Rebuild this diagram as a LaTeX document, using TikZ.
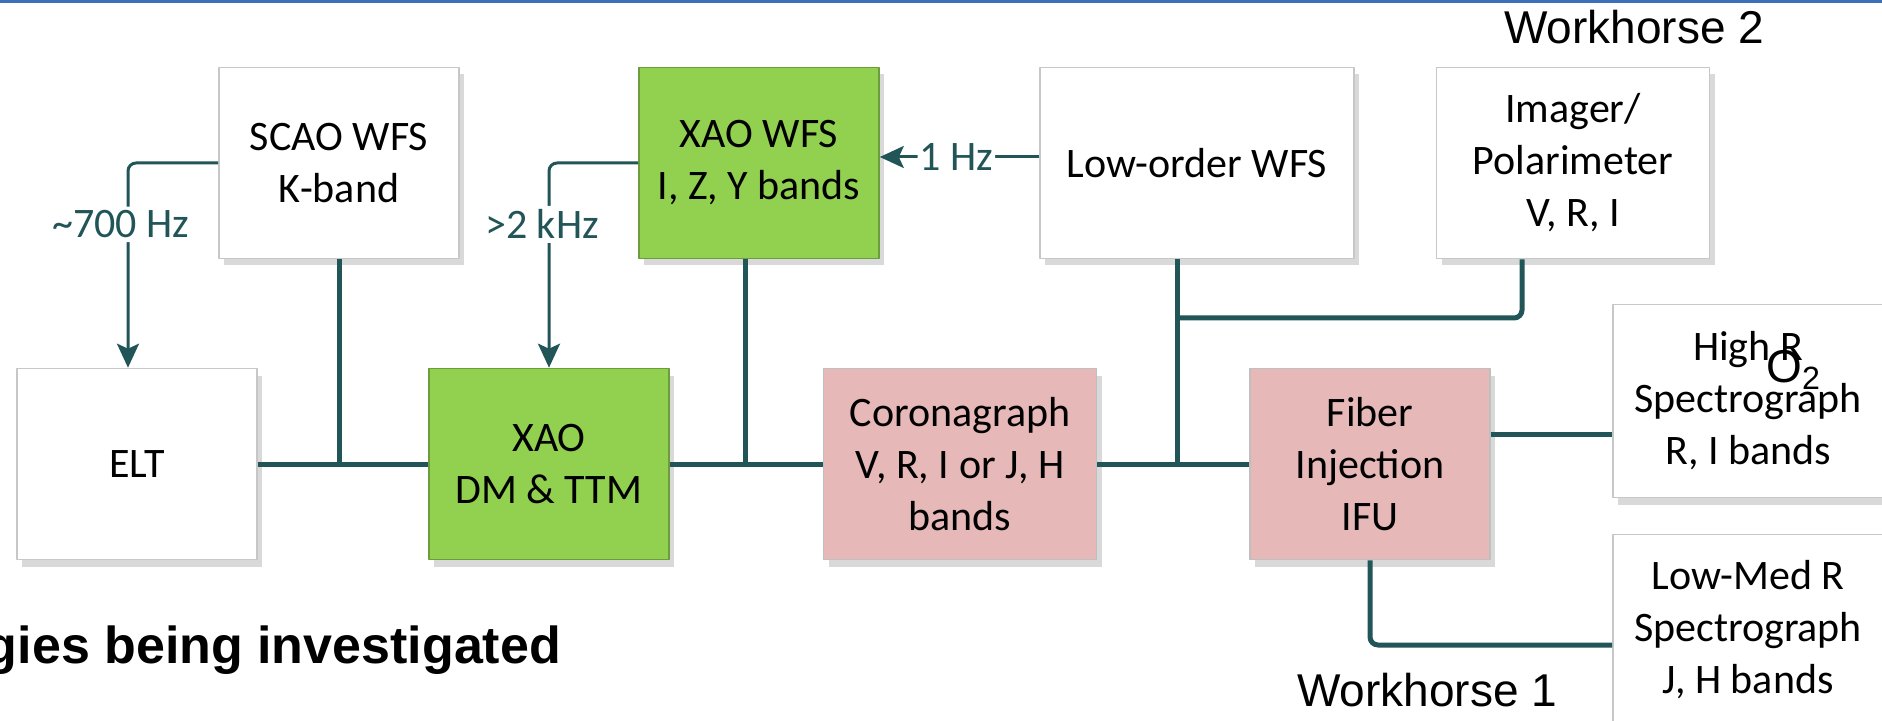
\documentclass[tikz,border=0pt]{standalone}
\usepackage{fontspec}
\setmainfont{Carlito}
\newfontfamily\arialfont{Liberation Sans}
\usetikzlibrary{arrows.meta,shadows,calc}
\definecolor{linkteal}{HTML}{215557}
\definecolor{xaogreen}{HTML}{92D050}
\definecolor{instpink}{HTML}{E6B8B7}
\definecolor{rulebl}{HTML}{3A70B8}

\begin{document}
\begin{tikzpicture}[x=0.5pt, y=-0.5pt, line join=round,
  blk/.style={draw=black!22, line width=0.8pt, fill=white, minimum width=120pt, minimum height=95.5pt, align=center, inner sep=0pt, font=\fontsize{21}{26}\selectfont, drop shadow={opacity=0.3, shadow xshift=2.5pt, shadow yshift=-3.5pt}},
  greenblk/.style={blk, fill=xaogreen, draw=xaogreen!75!black},
  pinkblk/.style={blk, fill=instpink, draw=black!25},
  bus/.style={draw=linkteal, line width=2.5pt},
  fb/.style={draw=linkteal, line width=1.5pt, rounded corners=4pt, -{Stealth[length=12pt,width=11pt,inset=2.5pt]}},
  rate/.style={fill=white, text=linkteal, font=\fontsize{21}{26}\selectfont, inner xsep=1pt, inner ysep=2pt},
  arial/.style={font=\arialfont\fontsize{23}{23}\selectfont}]
\useasboundingbox (0,0) rectangle (1882,721);
\clip (0,0) rectangle (1882,721);
\fill[rulebl] (0,0) rectangle (1882,3.5);

\node[blk] (elt) at (137,464) {ELT};
\node[blk] (scao) at (339,163) {SCAO WFS\\K-band};
\node[greenblk] (xwfs) at (759,163) {XAO WFS\\I, Z, Y bands};
\node[greenblk] (xdm) at (549,464) {XAO\\DM \& TTM};
\node[pinkblk, minimum width=136.5pt] (coro) at (960,464) {Coronagraph\\V, R, I or J, H\\bands};
\node[pinkblk] (fiber) at (1370,464) {Fiber\\Injection\\IFU};
\node[blk, minimum width=157pt] (lowo) at (1197,163) {Low-order WFS};
\node[blk, minimum width=136.5pt] (imgr) at (1573,163) {Imager/\\Polarimeter\\V, R, I};
\node[blk, minimum width=135pt, minimum height=96.5pt] (hir) at (1748,401) {High R\\Spectrograph\\R, I bands};
\node[blk, minimum width=135pt] (lowr) at (1748,630) {Low-Med R\\Spectrograph\\J, H bands};

\coordinate (wtap) at ([xshift=-7pt]xwfs.south);
\coordinate (ltap) at ([xshift=-10pt]lowo.south);
\coordinate (itap) at ([xshift=-25.5pt]imgr.south);
\coordinate (split) at (ltap |- 0,318);

\draw[bus] (elt) -- (xdm) (xdm) -- (coro) (coro) -- (fiber);
\draw[bus] (scao) -- (scao |- elt);
\draw[bus] (wtap) -- (wtap |- xdm);
\draw[bus] (ltap) -- (ltap |- coro);
\draw[bus, rounded corners=4pt] (split) -| (itap);
\draw[bus] ([yshift=15pt]fiber.east) -- ([yshift=15pt]fiber.east -| hir.west);
\draw[bus, rounded corners=4pt] (fiber.south) |- ([yshift=-7.5pt]lowr.west);

\draw[fb] (scao.west) -| node[rate, pos=0.65, xshift=-3.5pt] {\textasciitilde700 Hz} ([xshift=-4.5pt]elt.north);
\draw[fb] (xwfs.west) -| node[rate, pos=0.65, xshift=-3.5pt] {>2 kHz} (xdm.north);
\draw[fb] ([yshift=3pt]lowo.west) -- node[rate, pos=0.52] {1 Hz} ([yshift=3pt]xwfs.east);

\node[arial] (wh2) at (1634,27) {Workhorse 2};
\node[arial] (wh1) at (1427,690) {Workhorse 1};
\node[arial, anchor=base west, inner sep=0pt] (otwo) at (1766,382) {O\textsubscript{2}};
\node[anchor=base west, inner sep=0pt, font=\arialfont\bfseries\fontsize{26}{26}\selectfont] (invest) at (-14.5,663) {gies being investigated};
\end{tikzpicture}
\end{document}
